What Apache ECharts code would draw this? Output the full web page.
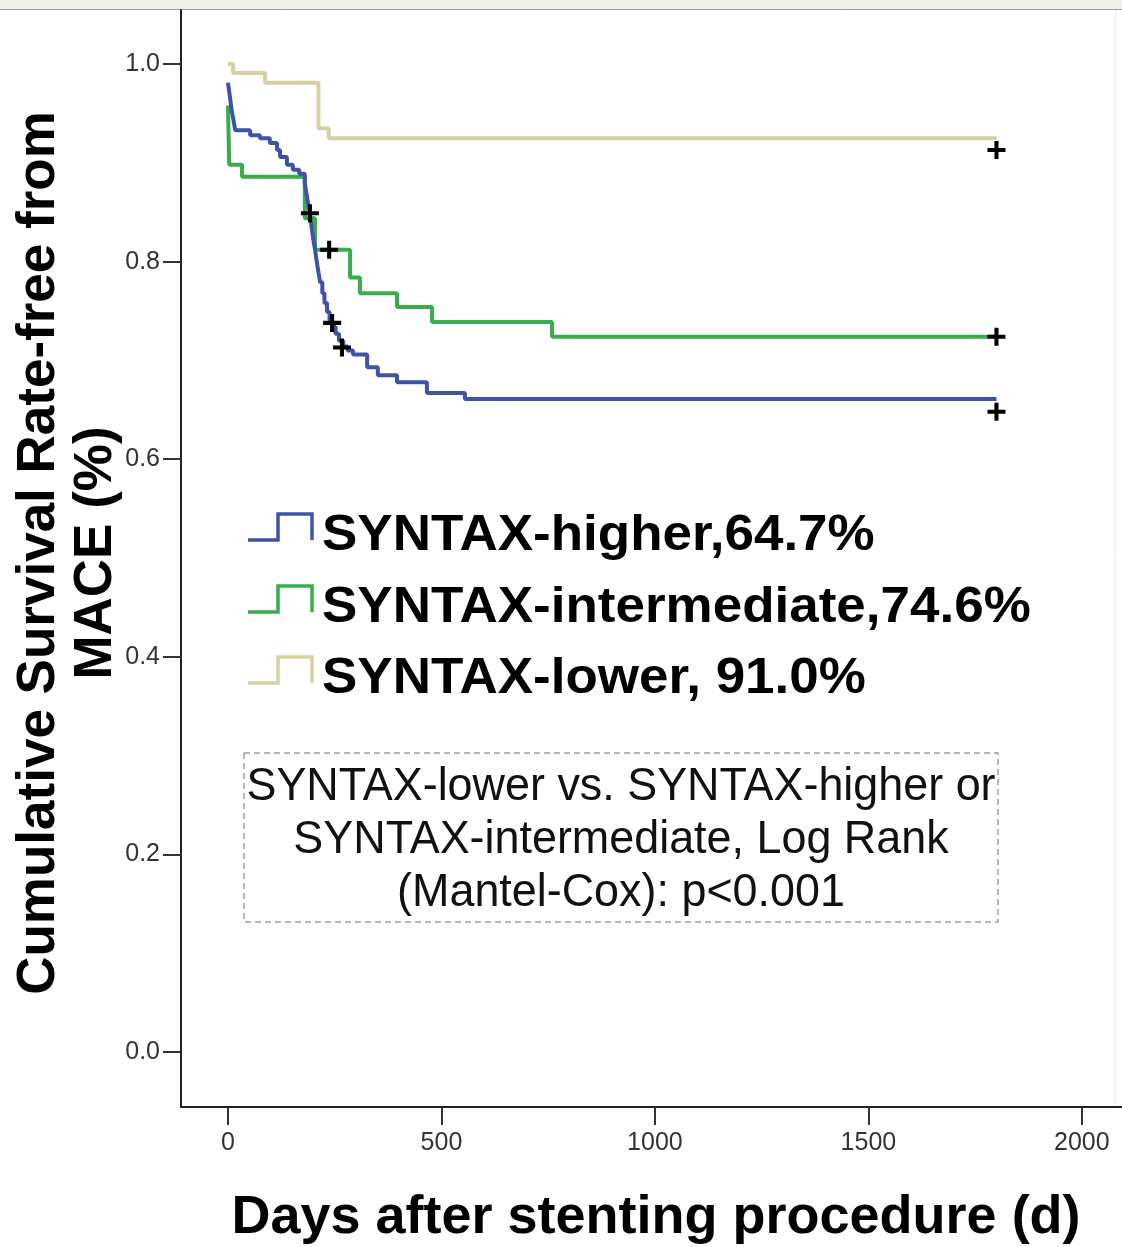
<!DOCTYPE html>
<html>
<head>
<meta charset="utf-8">
<title>Cumulative survival free from MACE by SYNTAX group</title>
<script src="https://cdn.jsdelivr.net/npm/echarts@6/dist/echarts.min.js"></script>
<style>
  html, body { margin: 0; padding: 0; background: #ffffff; }
  #chart { width: 1122px; height: 1247px; }
</style>
</head>
<body>
<div id="chart"></div>
<script>
// Kaplan-Meier step data: survival value holds from each day until the next day listed
const higherDays = [0, 3, 6, 9, 13, 17, 52, 75, 98, 115, 122, 138, 152, 167, 180, 184, 188, 192, 196, 200, 204, 208, 212, 216, 221, 226, 232, 238, 244, 252, 260, 270, 280, 293, 326, 351, 396, 466, 555, 1800];
const higherSurv = [0.981, 0.972, 0.962, 0.952, 0.943, 0.933, 0.928, 0.925, 0.920, 0.913, 0.906, 0.898, 0.893, 0.889, 0.880, 0.868, 0.858, 0.848, 0.835, 0.822, 0.812, 0.800, 0.789, 0.779, 0.768, 0.758, 0.749, 0.741, 0.734, 0.727, 0.720, 0.714, 0.710, 0.706, 0.693, 0.685, 0.678, 0.667, 0.661, 0.661];

const interDays = [0, 3, 33, 180, 204, 286, 309, 396, 478, 759, 1800];
const interSurv = [0.958, 0.898, 0.886, 0.844, 0.812, 0.784, 0.768, 0.754, 0.739, 0.724, 0.724];

const lowerDays = [0, 12, 87, 212, 236, 1800];
const lowerSurv = [1.0, 0.991, 0.981, 0.935, 0.925, 0.925];

// censored observations (+ marks)
const censorDays = [192, 237, 244, 267, 1800, 1800, 1800];
const censorSurv = [0.849, 0.812, 0.738, 0.713, 0.913, 0.724, 0.648];

const groupLabels = ['SYNTAX-higher,64.7%', 'SYNTAX-intermediate,74.6%', 'SYNTAX-lower, 91.0%'];
const groupColors = ['#3E53A8', '#39AC4B', '#D6D1A0'];

const xTicks = [0, 500, 1000, 1500, 2000];
const yTicks = [0.0, 0.2, 0.4, 0.6, 0.8, 1.0];

const statLines = [
  'SYNTAX-lower vs. SYNTAX-higher or',
  'SYNTAX-intermediate, Log Rank',
  '(Mantel-Cox): p<0.001'
];
const xTitle = 'Days after stenting procedure (d)';
const yTitleLines = ['Cumulative Survival Rate-free from', 'MACE (%)'];

function pairs(xs, ys) { return xs.map((x, i) => [x, ys[i]]); }

const chart = echarts.init(document.getElementById('chart'), null, { renderer: 'canvas' });

const FONT = '"Liberation Sans", Arial, sans-serif';

// legend entries: step icon + bold label
const legendGraphics = [];
const legendRowY = [536, 608, 679];
groupLabels.forEach((label, i) => {
  const yc = legendRowY[i];
  legendGraphics.push({
    type: 'polyline',
    shape: { points: [[248, yc + 4], [278, yc + 4], [278, yc - 22], [312, yc - 22], [312, yc + 4]] },
    style: { stroke: groupColors[i], lineWidth: 3.5, fill: null },
    z: 10
  });
  legendGraphics.push({
    type: 'text',
    x: 322, y: yc,
    scaleX: 1.06,
    style: {
      text: label, x: 0, y: 0,
      font: 'bold 50px ' + FONT,
      fill: '#000', textAlign: 'left', textVerticalAlign: 'middle'
    },
    z: 10
  });
});

// log-rank annotation box
const statGraphics = [{
  type: 'rect',
  shape: { x: 244, y: 753, width: 754, height: 169 },
  style: { fill: 'none', stroke: '#a0a0a0', lineWidth: 1.5, lineDash: [6, 4] },
  z: 10
}];
statLines.forEach((t, i) => {
  statGraphics.push({
    type: 'text',
    x: 621, y: 787 + i * 53,
    scaleX: 0.955,
    style: {
      text: t, x: 0, y: 0,
      font: '47px ' + FONT,
      fill: '#111', textAlign: 'center', textVerticalAlign: 'middle'
    },
    z: 10
  });
});

// axis titles
const titleGraphics = [
  {
    type: 'text', x: 656, y: 1218,
    style: { text: xTitle, x: 0, y: 0, font: 'bold 54px ' + FONT, fill: '#000', textAlign: 'center', textVerticalAlign: 'middle' }
  },
  {
    type: 'text', x: 39, y: 553, rotation: Math.PI / 2,
    style: { text: yTitleLines[0], x: 0, y: 0, font: 'bold 53px ' + FONT, fill: '#000', textAlign: 'center', textVerticalAlign: 'middle' }
  },
  {
    type: 'text', x: 96, y: 553, rotation: Math.PI / 2,
    style: { text: yTitleLines[1], x: 0, y: 0, font: 'bold 53px ' + FONT, fill: '#000', textAlign: 'center', textVerticalAlign: 'middle' }
  }
];

// page frame: pale band at top with a thin rule, faint right edge
const frameGraphics = [
  { type: 'rect', shape: { x: 0, y: 0, width: 1122, height: 9 }, style: { fill: '#F1F0E8' }, z: 0 },
  { type: 'line', shape: { x1: 0, y1: 9.5, x2: 1122, y2: 9.5 }, style: { stroke: '#9a9a9a', lineWidth: 1 }, z: 0 },
  { type: 'line', shape: { x1: 1115.5, y1: 10, x2: 1115.5, y2: 1105 }, style: { stroke: '#ececec', lineWidth: 1 }, z: 0 }
];

const lineSeries = (name, data, color) => ({
  name, type: 'line', step: 'end', data,
  showSymbol: false, symbol: 'none',
  lineStyle: { color, width: 4 },
  itemStyle: { color },
  z: 3, animation: false
});

const option = {
  backgroundColor: '#ffffff',
  animation: false,
  grid: { left: 181, right: 0, top: 10, bottom: 140, containLabel: false },
  xAxis: {
    type: 'value', min: -110, max: 2094,
    splitLine: { show: false },
    axisLine: { show: true, onZero: false, lineStyle: { color: '#222', width: 2 } },
    axisTick: { show: true, length: 18, customValues: xTicks, lineStyle: { color: '#333', width: 2 } },
    axisLabel: {
      customValues: xTicks, margin: 24, color: '#333', fontSize: 25, fontFamily: FONT,
      formatter: v => String(v)
    },
    minorTick: { show: false }
  },
  yAxis: {
    type: 'value', min: -0.0557, max: 1.0547,
    splitLine: { show: false },
    axisLine: { show: true, onZero: false, lineStyle: { color: '#222', width: 2 } },
    axisTick: { show: true, length: 18, customValues: yTicks, lineStyle: { color: '#333', width: 2 } },
    axisLabel: {
      customValues: yTicks, margin: 21, color: '#333', fontSize: 25, fontFamily: FONT,
      formatter: v => v.toFixed(1)
    }
  },
  series: [
    lineSeries('SYNTAX-lower', pairs(lowerDays, lowerSurv), groupColors[2]),
    lineSeries('SYNTAX-intermediate', pairs(interDays, interSurv), groupColors[1]),
    lineSeries('SYNTAX-higher', pairs(higherDays, higherSurv), groupColors[0]),
    {
      name: 'Censored', type: 'scatter',
      data: pairs(censorDays, censorSurv),
      symbol: 'path://M6.2,0H9.8V16H6.2Z M0,6.2H16V9.8H0Z',
      symbolSize: 18,
      itemStyle: { color: '#000', opacity: 1 },
      z: 5
    }
  ],
  graphic: { elements: [...frameGraphics, ...legendGraphics, ...statGraphics, ...titleGraphics] }
};

chart.setOption(option);
</script>
</body>
</html>
